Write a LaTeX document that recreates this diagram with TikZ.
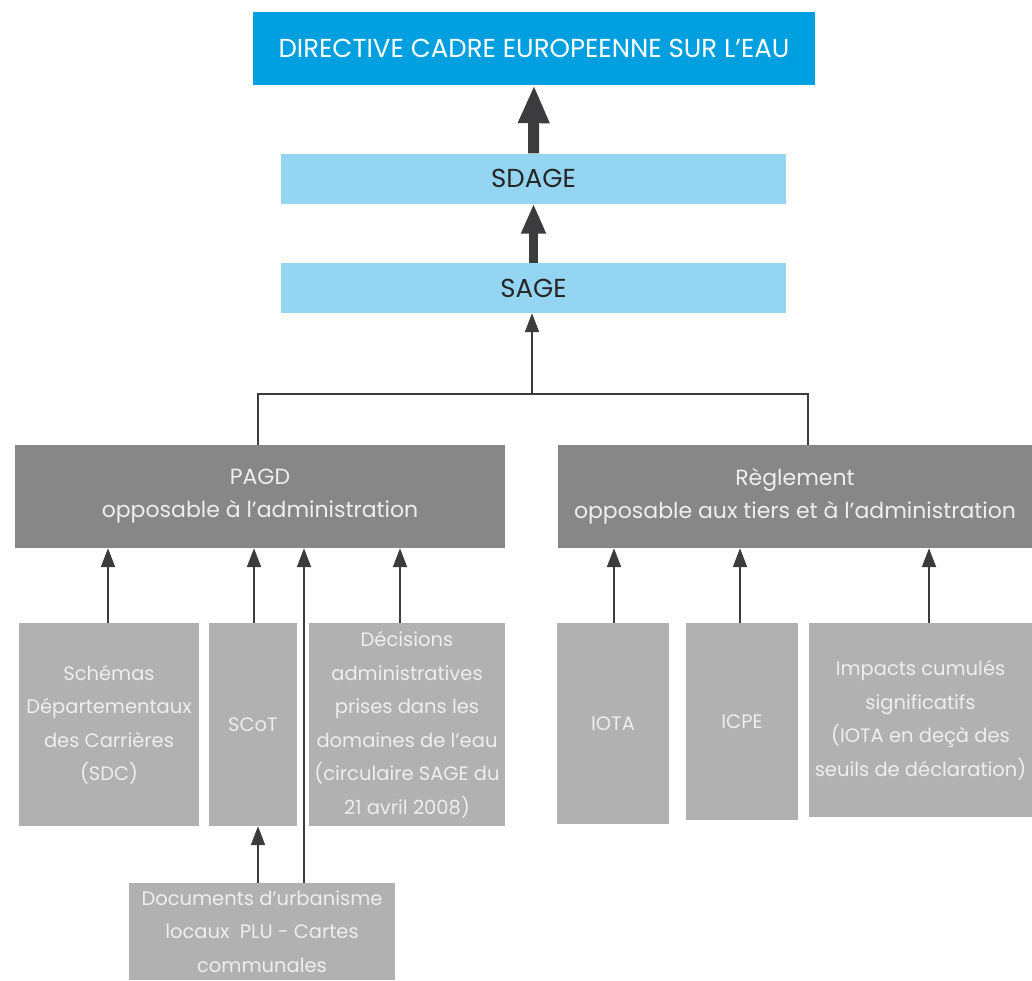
\documentclass[tikz,border=0pt]{standalone}
\usepackage{fontspec}
\setmainfont{Poppins}
\usetikzlibrary{arrows.meta}
\definecolor{dceblue}{RGB}{0,159,223}
\definecolor{lightblue}{RGB}{148,213,241}
\definecolor{darkbox}{RGB}{135,135,136}
\definecolor{midbox}{RGB}{177,177,178}
\definecolor{linegray}{RGB}{60,60,62}
\definecolor{boxtext}{RGB}{238,238,238}
\tikzset{
  topbox/.style={rectangle, fill=dceblue, text=white, inner sep=0pt,
    font=\fontsize{26}{30}\selectfont},
  bluebox/.style={rectangle, fill=lightblue, text=black!85, inner sep=0pt,
    minimum width=505pt, minimum height=50pt, font=\fontsize{26}{30}\selectfont},
  graybox/.style={rectangle, fill=darkbox, text=boxtext, inner sep=0pt,
    align=center, font=\fontsize{22}{33}\selectfont},
  smallbox/.style={rectangle, fill=midbox, text=boxtext, inner sep=0pt,
    align=center, font=\fontsize{19.5}{33.5}\selectfont},
  thickarrow/.style={draw=linegray, -{Triangle[length=38pt, width=29pt]}},
  thinarrow/.style={draw=linegray, line width=2pt, -{Triangle[length=19pt, width=14pt]}},
  link/.style={draw=linegray, line width=2pt}
}
\begin{document}
\begin{tikzpicture}[x=1pt, y=-1pt]
\useasboundingbox[fill=white] (0,0) rectangle (1032,980);

\node[topbox, minimum width=562pt, minimum height=73pt] (dce) at (534,48.5)
  {DIRECTIVE CADRE EUROPEENNE SUR L'EAU};
\node[bluebox] (sdage) at (533.5,178.5) {SDAGE};
\node[bluebox] (sage) at (533.5,288) {SAGE};

\node[graybox, minimum width=490pt, minimum height=103pt] (pagd) at (260,496.5)
  {PAGD\\opposable à l’administration};
\node[graybox, minimum width=474pt, minimum height=103pt] (regl) at (795,496.5)
  {Règlement\\opposable aux tiers et à l'administration};

\node[smallbox, minimum width=180pt, minimum height=203pt] (sdc) at (109,724.5)
  {Schémas\\Départementaux\\des Carrières\\(SDC)};
\node[smallbox, minimum width=88pt, minimum height=203pt] (scot) at (253,724.5)
  {SCoT};
\node[smallbox, minimum width=196pt, minimum height=203pt] (deci) at (407,724.5)
  {Décisions\\administratives\\prises dans les\\domaines de l’eau\\(circulaire SAGE du\\21 avril 2008)};
\node[smallbox, minimum width=266pt, minimum height=97pt] (docs) at (262,931.5)
  {Documents d’urbanisme\\locaux\ \ PLU - Cartes\\communales};

\node[smallbox, minimum width=112pt, minimum height=201pt] (iota) at (613,723.5) {IOTA};
\node[smallbox, minimum width=112pt, minimum height=197pt] (icpe) at (742,721.5) {ICPE};
\node[smallbox, minimum width=223pt, minimum height=194pt] (imp) at (920.5,720)
  {Impacts cumulés\\significatifs\\(IOTA en deçà des\\seuils de déclaration)};

% thick arrows
\draw[thickarrow, line width=11pt] (sdage.north) -- (dce.south);
\draw[draw=linegray, line width=9pt, -{Triangle[length=30pt, width=23pt]}] (sage.north) -- (sdage.south);

% link PAGD / Reglement to SAGE
\coordinate (junc) at (532,394);
\draw[link] ([xshift=-2pt]pagd.north) |- (junc) -| ([xshift=13pt]regl.north);
\draw[thinarrow] (junc) -- (junc |- sage.south);

% arrows to PAGD
\draw[thinarrow] ([xshift=-1pt]sdc.north) -- ([xshift=-1pt]sdc.north |- pagd.south);
\draw[thinarrow] ([xshift=1pt]scot.north) -- ([xshift=1pt]scot.north |- pagd.south);
\draw[thinarrow] ([xshift=-7pt]deci.north) -- ([xshift=-7pt]deci.north |- pagd.south);
\draw[thinarrow] ([xshift=42pt]docs.north) -- ([xshift=42pt]docs.north |- pagd.south);
\draw[thinarrow] ([xshift=-4pt]docs.north) -- ([xshift=-4pt]docs.north |- scot.south);

% arrows to Reglement
\draw[thinarrow] ([xshift=1pt]iota.north) -- ([xshift=1pt]iota.north |- regl.south);
\draw[thinarrow] ([xshift=-2pt]icpe.north) -- ([xshift=-2pt]icpe.north |- regl.south);
\draw[thinarrow] ([xshift=8.5pt]imp.north) -- ([xshift=8.5pt]imp.north |- regl.south);
\end{tikzpicture}
\end{document}
